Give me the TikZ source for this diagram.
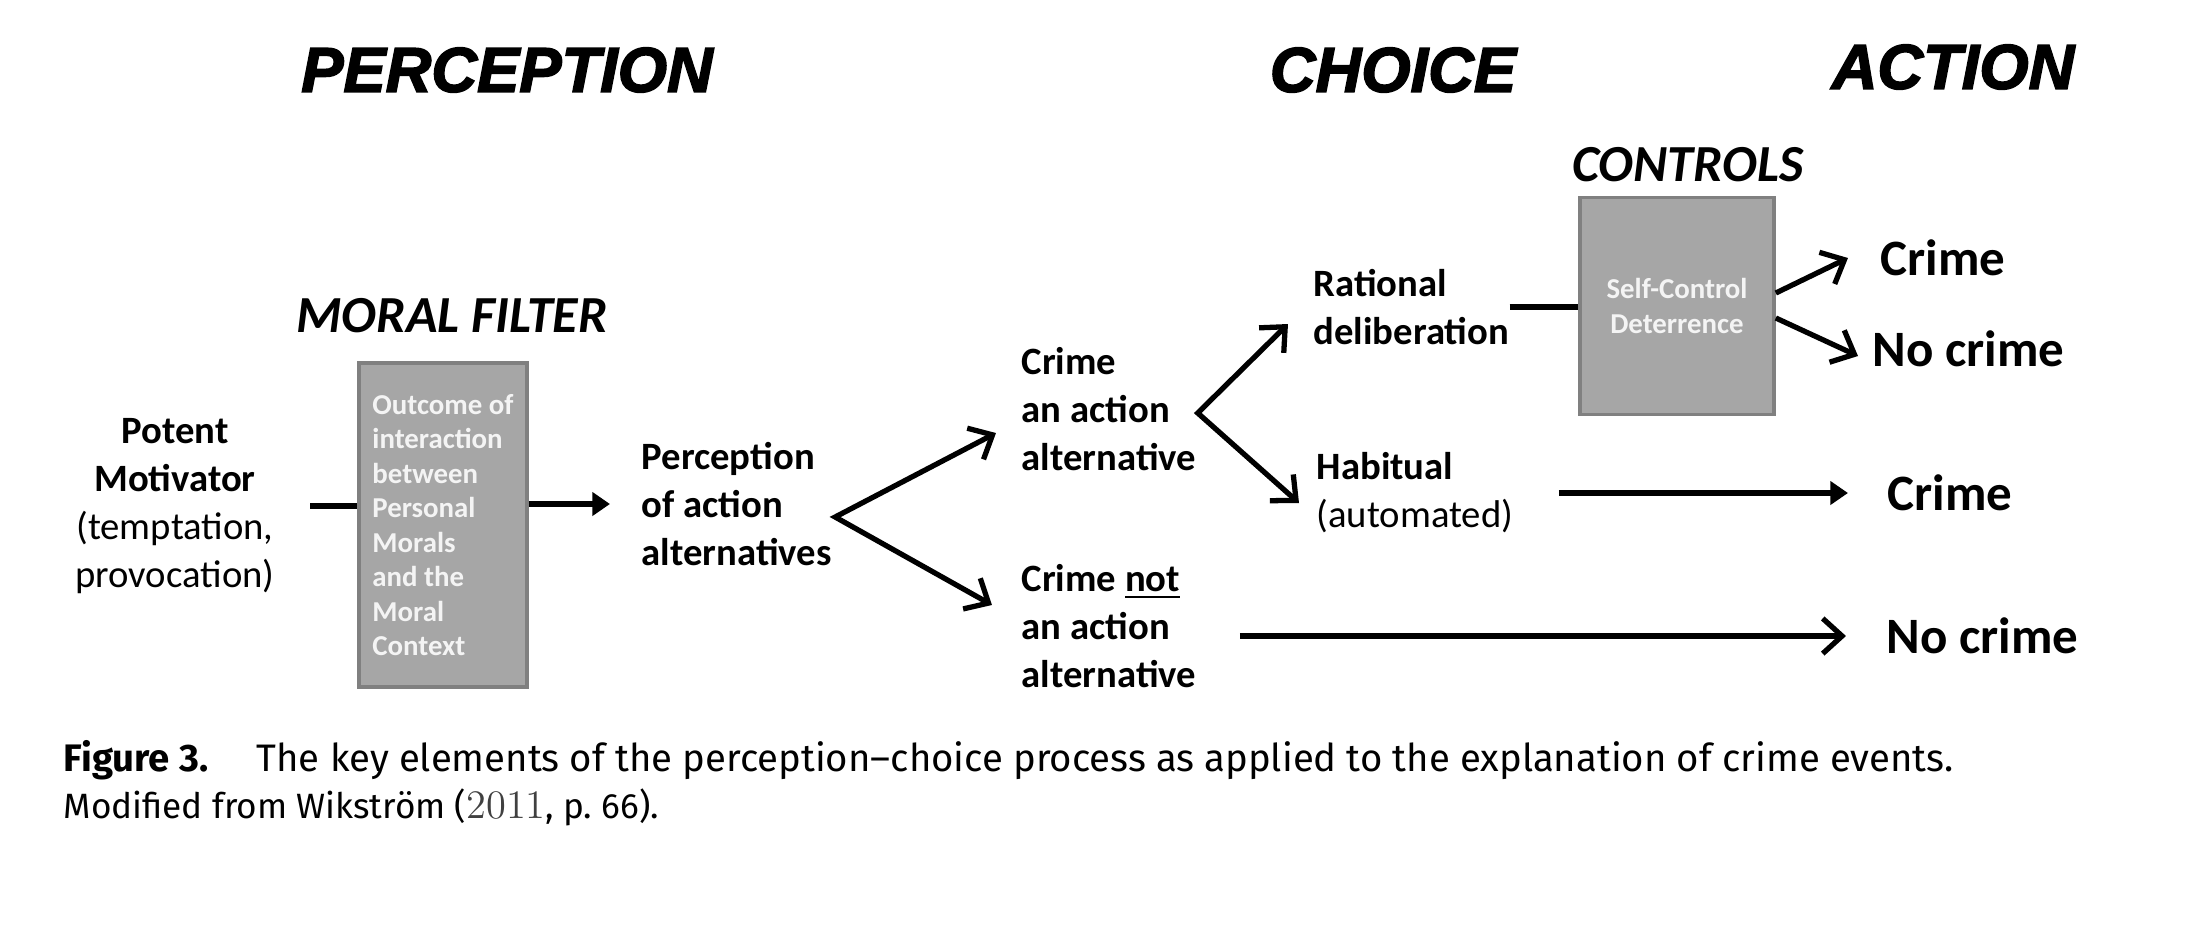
\documentclass[tikz,border=0pt]{standalone}
\usepackage{fontspec}
\setmainfont{Carlito}
\newfontfamily\headfont[BoldItalicFeatures={FakeBold=2.5}]{Liberation Sans}
\newfontfamily\capfont{Fira Sans}
\newfontfamily\lmfont{Latin Modern Roman}
\usetikzlibrary{arrows.meta, positioning, calc}

\definecolor{filtergray}{HTML}{A6A6A6}
\definecolor{filteredge}{HTML}{808080}
\definecolor{filtertext}{HTML}{F4F4F4}

\begin{document}
\begin{tikzpicture}[
    x=0.01cm, y=-0.01cm,
    stage/.style={font=\headfont\fontsize{18}{20}\selectfont\bfseries\itshape, inner sep=0pt},
    boxhead/.style={font=\fontsize{14.8}{16}\selectfont\bfseries\itshape, inner sep=0pt},
    filterbox/.style={rectangle, draw=filteredge, line width=1pt, fill=filtergray, text=filtertext, font=\fontsize{8.2}{9.8}\selectfont\bfseries, align=left},
    label/.style={font=\fontsize{11}{13.6}\selectfont\bfseries, align=left, inner sep=0pt, anchor=west},
    outcome/.style={font=\fontsize{14.5}{16}\selectfont\bfseries, inner sep=0pt, anchor=west},
    caption/.style={font=\capfont\fontsize{10.9}{13}\selectfont, inner sep=0pt, anchor=base west},
    link/.style={line width=1.5pt},
    fillarrow/.style={line width=1.5pt, -{Triangle[length=5pt, width=6.5pt]}},
    barb/.style={line width=1.5pt, -{Straight Barb[length=5.5pt, width=10pt]}},
    forkbarbs/.style={line width=1.5pt, line join=miter, {Straight Barb[length=5.5pt, width=10pt]}-{Straight Barb[length=5.5pt, width=10pt]}}
]
\useasboundingbox (0,0) rectangle (2190,927);

% Stage headings
\node[stage] (perc) at (507,70) {PERCEPTION};
\node[stage] (choice) at (1393,70) {CHOICE};
\node[stage] (action) at (1953,67) {ACTION};

% Perception
\node[label, anchor=center, align=center] (motiv) at (175,506) {Potent\\Motivator\\{\mdseries (temptation,}\\{\mdseries provocation)}};
\node[filterbox, minimum width=1.68cm, minimum height=3.24cm] (filter) at (443,525) {Outcome of\\interaction\\between\\Personal\\Morals\\and the\\Moral\\Context};
\node[boxhead, above=0.28cm of filter, xshift=0.09cm] (filterhead) {MORAL FILTER};
\node[label] (percep) at (641,504) {Perception\\of action\\alternatives};

% Choice
\node[label] (calt) at (1021,409) {Crime\\an action\\alternative};
\node[label] (cnot) at (1021,626) {Crime \underline{not}\\an action\\alternative};
\node[label] (rational) at (1313,307) {Rational\\deliberation};
\node[label] (habit) at (1316,493) {Habitual\\{\mdseries (automated)}};
\node[filterbox, align=center, minimum width=1.94cm, minimum height=2.17cm] (ctrl) at (1677,306) {Self-Control\\Deterrence};
\node[boxhead, above=0.13cm of ctrl, xshift=0.11cm] (ctrlhead) {CONTROLS};

% Action
\node[outcome] (crimeA) at (1880,258) {Crime};
\node[outcome] (nocrimeA) at (1872,349) {No crime};
\node[outcome] (crimeB) at (1887,493) {Crime};
\node[outcome] (nocrimeB) at (1886,636) {No crime};

% Connectors
\draw[link] ([xshift=0.35cm]motiv.east) -- (motiv.east -| filter.west);
\draw[fillarrow] (filter.east |- percep.west) -- ([xshift=-0.31cm]percep.west);
\coordinate (forkA) at ([xshift=0.03cm, yshift=-0.13cm]percep.east);
\draw[forkbarbs] ([xshift=-0.25cm, yshift=-0.24cm]calt.west) -- (forkA) -- ([xshift=-0.29cm, yshift=0.21cm]cnot.west);
\coordinate (forkB) at ([xshift=0.01cm, yshift=-0.04cm]calt.east);
\draw[forkbarbs] ([xshift=-0.25cm, yshift=-0.17cm]rational.west) -- (forkB) -- ([xshift=-0.17cm, yshift=-0.10cm]habit.west);
\draw[link] (rational.east) -- (rational.east -| ctrl.west);
\draw[barb] ([yshift=0.13cm]ctrl.east) -- ([xshift=-0.32cm]crimeA.west);
\draw[barb] ([yshift=-0.12cm]ctrl.east) -- ([xshift=-0.14cm, yshift=-0.07cm]nocrimeA.west);
\draw[fillarrow, shorten <=0.45cm, shorten >=0.39cm] (habit.east |- crimeB.west) -- (crimeB.west);
\draw[barb, shorten <=0.43cm, shorten >=0.40cm] (cnot.east |- nocrimeB.west) -- (nocrimeB.west);

% Caption
\node[caption, font=\capfont\fontsize{10.9}{13}\selectfont\bfseries] (figlabel) at (63,771) {Figure 3.};
\node[caption] (figtext) at (256,771) {The key elements of the perception–choice process as applied to the explanation of crime events.};
\node[caption, font=\capfont\fontsize{10}{12}\selectfont] (source) at (63,818) {Modified from Wikström ({\lmfont\fontsize{11.5}{12}\selectfont\color{black!75}2011}, p.~66).};

\end{tikzpicture}
\end{document}
